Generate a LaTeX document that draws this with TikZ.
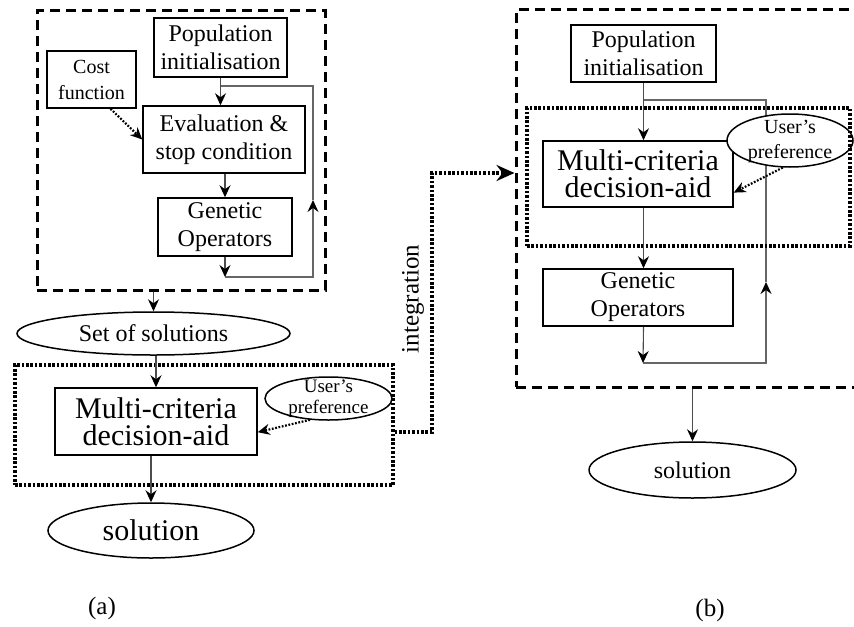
\documentclass[tikz,border=0pt]{standalone}
\usepackage{fontspec}
\setmainfont{Liberation Serif}
\usetikzlibrary{shapes.geometric,arrows.meta}
\newcommand{\fnorm}{\fontsize{12}{14}\selectfont}
\newcommand{\fsmall}{\fontsize{10}{13}\selectfont}
\newcommand{\fusera}{\fontsize{9.5}{10.5}\selectfont}
\newcommand{\fuserb}{\fontsize{10}{12.5}\selectfont}
\newcommand{\fbig}{\fontsize{15}{13.5}\selectfont}
\newcommand{\flab}{\fontsize{12.5}{14}\selectfont}
\tikzset{
  blk/.style = {draw, rectangle, line width=0.75pt, fill=white,
                align=center, inner sep=0pt, font=\fnorm},
  oval/.style = {draw, ellipse, line width=0.75pt, fill=white,
                 inner sep=0pt, font=\fnorm},
  dashframe/.style = {draw, rectangle, line width=1.5pt,
                      dash pattern=on 5pt off 3pt, inner sep=0pt},
  dotframe/.style = {draw, rectangle, line width=1.6pt,
                     dash pattern=on 1.3pt off 0.9pt, inner sep=0pt},
  arr/.style = {draw=black!70, line width=0.55pt,
                -{Stealth[length=6pt, width=5.5pt, inset=2pt, color=black]}},
  dotarr/.style = {draw=black, line width=1.1pt, dash pattern=on 0.9pt off 0.8pt,
                   -{Stealth[length=6pt, width=5.5pt, inset=2pt]}},
  loopln/.style = {draw=black!60, line width=0.65pt},
  looparr/.style = {loopln, -{Stealth[length=6pt, width=5.5pt, inset=2pt, color=black]}}
}

\begin{document}
\begin{tikzpicture}[x=0.5pt, y=-0.5pt]
	\useasboundingbox (0,0) rectangle (854,626);

	% Loop points
	\coordinate (a-jn) at (220,86);
	\coordinate (a-lb) at (225,277);
	\coordinate (a-rb) at (313,277);
	\coordinate (a-up) at (313,200);
	\coordinate (a-rt) at (313,86);
	\coordinate (b-jn) at (643,100);
	\coordinate (b-lb) at (643,363);
	\coordinate (b-rb) at (766,363);
	\coordinate (b-up) at (766,282);
	\coordinate (b-rt) at (766,100);
	\coordinate (int-lo) at (432,432);
	\coordinate (int-hi) at (432,173);

	% Loops
	\draw[looparr] (a-lb) -- (a-rb) -- (a-up);
	\draw[loopln] (a-up) -- (a-rt) -- (a-jn);
	\draw[looparr] (b-lb) -- (b-rb) -- (b-up);
	\draw[loopln] (b-up) -- (b-rt) -- (b-jn);

	% Panel (a)
	\node[blk, minimum width=66.5pt, minimum height=29.5pt] (a-pop) at (220.5,47.5) {Population\\initialisation};
	\node[blk, font=\fsmall, minimum width=44.5pt, minimum height=28.5pt] (a-cost) at (91.5,79.5) {Cost\\function};
	\node[blk, minimum width=81pt, minimum height=33.5pt] (a-eval) at (224,139.5) {Evaluation \&\\stop condition};
	\node[blk, minimum width=67pt, minimum height=29pt] (a-gen) at (225,227) {Genetic\\Operators};
	\node[oval, minimum width=136.5pt, minimum height=21.5pt] (a-set) at (153.5,333.5) {Set of solutions};
	\node[blk, font=\fbig, minimum width=101pt, minimum height=33.5pt] (a-mcda) at (156,421.5) {Multi-criteria\\decision-aid};
	\node[oval, minimum width=63.5pt, minimum height=21.5pt] (a-user) at (328.5,398.5) {};
	\node[font=\fusera, align=center, inner sep=0pt] (a-user-txt) at (328.5,399) {User's\\preference};
	\node[oval, font=\fbig, minimum width=103pt, minimum height=27.5pt] (a-sol) at (151,530.5) {solution};
	\node[font=\flab] (a-lab) at (102,608) {(a)};

	% Panel (b)
	\node[blk, minimum width=72.5pt, minimum height=28.5pt] (b-pop) at (643.5,53.5) {Population\\initialisation};
	\node[blk, font=\fbig, minimum width=95pt, minimum height=33pt] (b-mcda) at (638,174) {Multi-criteria\\decision-aid};
	\node[oval, minimum width=63pt, minimum height=26.5pt] (b-user) at (790,140.5) {};
	\node[font=\fuserb, align=center, inner sep=0pt] (b-user-txt) at (790,141) {User's\\preference};
	\node[blk, minimum width=95pt, minimum height=28.5pt] (b-gen) at (638,297.5) {Genetic\\Operators};
	\node[oval, minimum width=103.5pt, minimum height=28pt] (b-sol) at (692.5,470) {solution};
	\node[font=\flab] (b-lab) at (710,610) {(b)};

	% Frames
	\node[dashframe, minimum width=144pt, minimum height=139.5pt] (a-frame) at (181,150.5) {};
	\node[dotframe, minimum width=189pt, minimum height=60pt] (a-dm) at (204,425) {};
	\node[dashframe, minimum width=177pt, minimum height=188.5pt] (b-frame) at (693,198.5) {};
	\node[dotframe, minimum width=161.5pt, minimum height=69pt] (b-dm) at (688.5,177) {};

	% Arrows (a)
	\draw[arr] (a-pop.south) -- (a-pop.south |- a-eval.north);
	\draw[arr] (a-eval.south -| a-gen.north) -- (a-gen.north);
	\draw[arr] (a-gen.south) -- (a-lb);
	\draw[dotarr] (a-cost.-57) -- (a-eval.west);
	\draw[arr] (a-set.north |- a-frame.south) -- (a-set.north);
	\draw[arr] (a-mcda.north |- a-set.south) -- (a-mcda.north);
	\draw[arr] (a-mcda.south -| a-sol.north) -- (a-sol.north);
	\draw[dotarr] (a-user.-131) -- (a-mcda.-6.5);

	% Integration
	\draw[line width=1.6pt, dash pattern=on 1.3pt off 0.9pt,
	      -{Stealth[length=9pt, width=8pt, inset=3pt]}]
	      (a-dm.east |- int-lo) -- (int-lo) -- (int-hi) -- (int-hi -| b-frame.west);
	\node[font=\flab, rotate=90] (int-lab) at (413,299) {integration};

	% Arrows (b)
	\draw[arr] (b-pop.south) -- (b-pop.south |- b-mcda.north);
	\draw[arr] (b-pop.south |- b-mcda.south) -- (b-pop.south |- b-gen.north);
	\draw[arr] (b-pop.south |- b-gen.south) -- (b-lb);
	\draw[dotarr] (b-user.-105) -- (b-mcda.-11);
	\draw[arr] (b-sol.north |- b-frame.south) -- (b-sol.north);

\end{tikzpicture}
\end{document}
